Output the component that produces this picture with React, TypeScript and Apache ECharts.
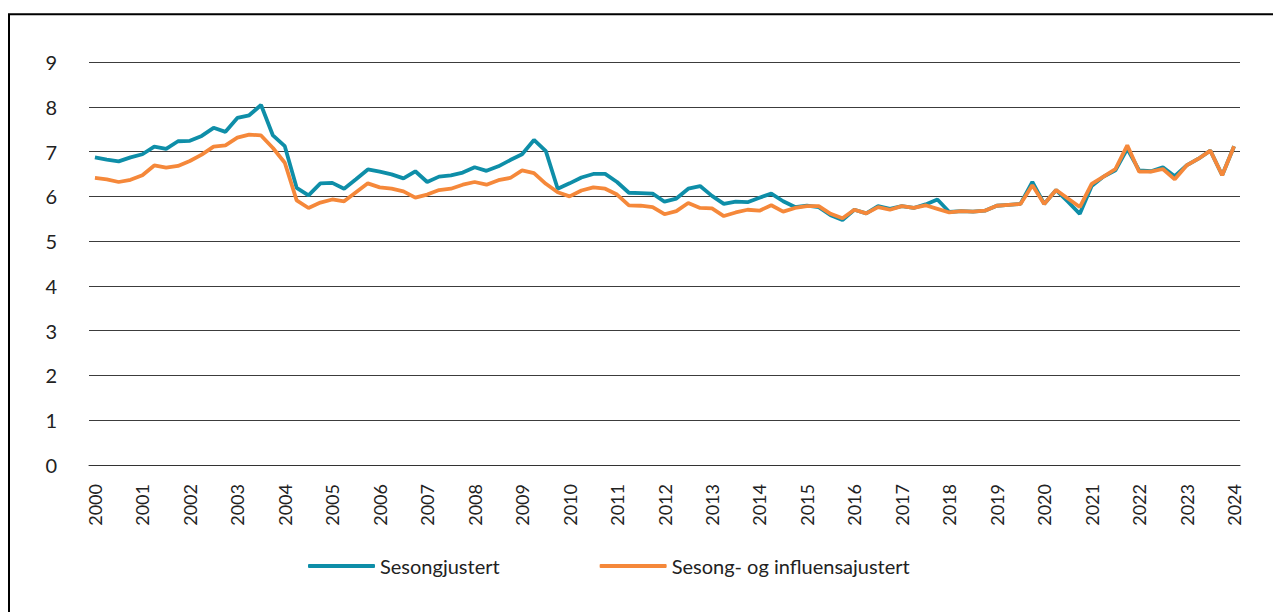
import React, { useEffect, useRef } from "react";
import * as echarts from "echarts";

const quarters: string[] = [];
for (let y = 2000; y <= 2024; y++) {
  for (let q = 1; q <= 4; q++) {
    if (y === 2024 && q > 1) break;
    quarters.push(`${y}K${q}`);
  }
}

const yTicks = [0, 1, 2, 3, 4, 5, 6, 7, 8, 9];

const sesongjustert = [
  6.87, 6.82, 6.78, 6.87, 6.94, 7.11, 7.06, 7.23, 7.24, 7.35, 7.53, 7.44, 7.75, 7.81, 8.04, 7.36,
  7.12, 6.19, 6.02, 6.29, 6.30, 6.17, 6.38, 6.60, 6.55, 6.49, 6.40, 6.56, 6.32, 6.44, 6.47, 6.53,
  6.65, 6.57, 6.67, 6.81, 6.94, 7.26, 7.01, 6.17, 6.29, 6.42, 6.50, 6.50, 6.32, 6.08, 6.07, 6.06,
  5.88, 5.95, 6.17, 6.23, 6.01, 5.83, 5.88, 5.87, 5.97, 6.06, 5.89, 5.76, 5.79, 5.76, 5.58, 5.47,
  5.70, 5.62, 5.78, 5.72, 5.78, 5.74, 5.82, 5.93, 5.65, 5.67, 5.66, 5.68, 5.79, 5.81, 5.83, 6.32,
  5.83, 6.14, 5.88, 5.61, 6.23, 6.44, 6.58, 7.06, 6.58, 6.56, 6.65, 6.45, 6.69, 6.84, 7.02, 6.47,
  7.12,
];

const sesongOgInfluensa = [
  6.41, 6.38, 6.32, 6.37, 6.47, 6.69, 6.64, 6.68, 6.79, 6.93, 7.11, 7.14, 7.31, 7.38, 7.36, 7.08,
  6.75, 5.91, 5.74, 5.86, 5.93, 5.89, 6.09, 6.29, 6.20, 6.17, 6.11, 5.97, 6.04, 6.14, 6.17, 6.26,
  6.32, 6.26, 6.36, 6.41, 6.58, 6.52, 6.28, 6.09, 6.00, 6.13, 6.20, 6.17, 6.04, 5.80, 5.79, 5.76,
  5.60, 5.67, 5.85, 5.74, 5.73, 5.56, 5.64, 5.70, 5.68, 5.80, 5.66, 5.74, 5.78, 5.78, 5.61, 5.51,
  5.70, 5.62, 5.76, 5.70, 5.78, 5.74, 5.80, 5.72, 5.64, 5.67, 5.66, 5.68, 5.79, 5.81, 5.83, 6.25,
  5.83, 6.14, 5.95, 5.76, 6.28, 6.44, 6.61, 7.14, 6.55, 6.55, 6.61, 6.38, 6.69, 6.84, 7.02, 6.47,
  7.12,
];

const seriesNames = ["Sesongjustert", "Sesong- og influensajustert"];
const colors = ["#0e8ea8", "#f5883a"];

export default function App() {
  const ref = useRef<HTMLDivElement>(null);
  useEffect(() => {
    if (!ref.current) return;
    const chart = echarts.init(ref.current, null, { renderer: "svg" });
    const font = "Lato";
    chart.setOption({
      animation: false,
      textStyle: { fontFamily: font },
      graphic: [
        {
          type: "rect",
          shape: { x: 9, y: 14.3, width: 1400, height: 800 },
          style: { fill: "none", stroke: "#000", lineWidth: 2 },
          silent: true,
        },
      ],
      grid: { left: 89, right: 33, top: 62, bottom: 147, containLabel: false },
      legend: {
        left: 303,
        top: 551,
        icon: "roundRect",
        itemWidth: 67,
        itemHeight: 4,
        itemGap: 100,
        textStyle: { fontFamily: font, fontSize: 20, color: "#222" },
        data: seriesNames,
      },
      xAxis: {
        type: "category",
        data: quarters,
        boundaryGap: true,
        axisLine: { show: true, lineStyle: { color: "#333", width: 1 } },
        axisTick: { show: false },
        axisLabel: {
          interval: 3,
          rotate: 90,
          margin: 19,
          fontFamily: font,
          fontSize: 18,
          color: "#222",
          formatter: (v: string) => v.slice(0, 4),
        },
      },
      yAxis: {
        type: "value",
        min: yTicks[0],
        max: yTicks[yTicks.length - 1],
        interval: 1,
        axisLine: { show: false },
        axisTick: { show: false },
        axisLabel: { margin: 32, fontFamily: font, fontSize: 20, color: "#222" },
        splitLine: { lineStyle: { color: "#3c3c3c", width: 1 } },
      },
      series: [
        {
          name: seriesNames[0],
          type: "line",
          data: sesongjustert,
          showSymbol: false,
          symbol: "none",
          lineStyle: { color: colors[0], width: 3.8 },
          itemStyle: { color: colors[0] },
        },
        {
          name: seriesNames[1],
          type: "line",
          data: sesongOgInfluensa,
          showSymbol: false,
          symbol: "none",
          lineStyle: { color: colors[1], width: 3.8 },
          itemStyle: { color: colors[1] },
        },
      ],
    });
    return () => chart.dispose();
  }, []);
  return (
    <div
      ref={ref}
      style={{ position: "fixed", left: 0, top: 0, width: 1273, height: 612, background: "#fff" }}
    />
  );
}
